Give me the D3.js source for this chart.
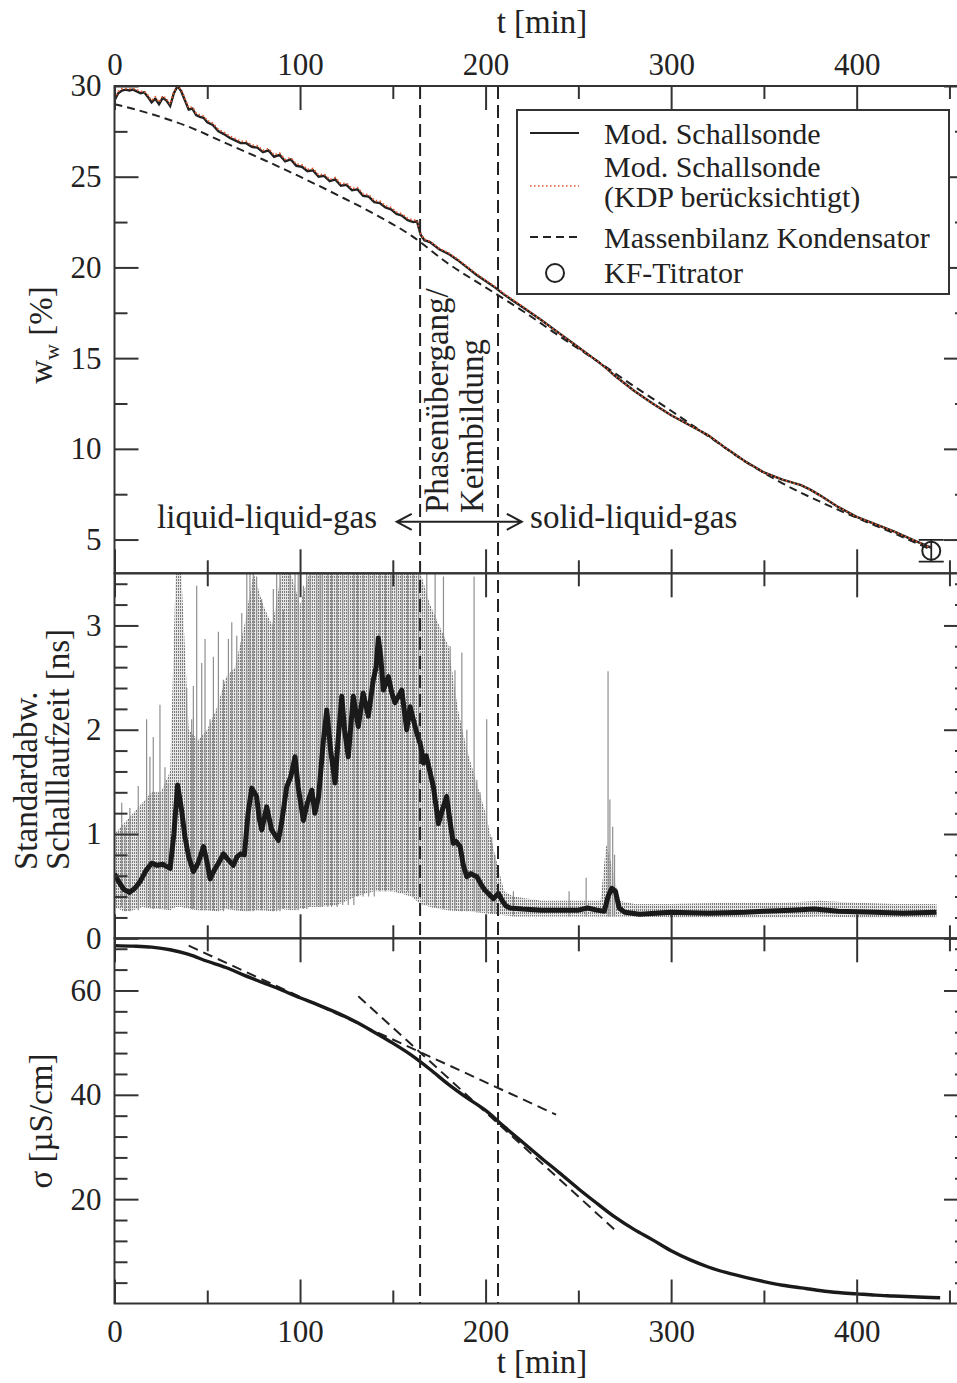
<!DOCTYPE html>
<html><head><meta charset="utf-8">
<script src="https://cdn.jsdelivr.net/npm/d3@7"></script>
<style>
html,body{margin:0;padding:0;background:#fff;}
svg text{font-family:"Liberation Serif","Times New Roman",serif;fill:#222;}
</style></head><body>
<svg id="chart" width="957" height="1383"></svg>
<script>
// ---------- DATA ----------
const xMajorTicks=[0,100,200,300,400];
const xMinorTicks=[50,150,250,350,450];
const wMajorTicks=[5,10,15,20,25,30];
const wMinorTicks=[7.5,12.5,17.5,22.5,27.5];
const sdMajorTicks=[0,1,2,3];
const sdMinorTicks=[0.2,0.4,0.6,0.8,1.2,1.4,1.6,1.8,2.2,2.4,2.6,2.8,3.2,3.4];
const sigMajorTicks=[20,40,60];
const sigMinorTicks=[4,8,12,16,24,28,32,36,44,48,52,56,64,68];

// top panel: water content w_w [%]
const wT=[0,2,4,6,8,10,12,14,16,18,20,22,24,26,28,30,32,34,36,38,40,42,44,46,48,50,53,56,59,62,65,68,71,74,77,80,83,86,89,92,95,98,101,104,107,110,113,116,119,122,125,128,131,134,137,140,143,146,149,152,155,158,161,163,165,167,170,175,180,185,190,195,200,205,210,215,220,230,240,250,260,265,270,280,290,300,310,320,330,340,350,360,370,375,380,390,400,410,420,430,440];
const wMod=[29.2,29.6,29.75,29.8,29.75,29.8,29.7,29.6,29.65,29.4,29.1,29.3,29.0,29.35,29.2,28.9,29.6,30.0,29.7,29.2,28.7,28.75,28.4,28.3,28.25,28.0,27.85,27.5,27.35,27.15,27.0,26.85,26.85,26.65,26.6,26.35,26.45,26.1,26.2,25.85,25.95,25.6,25.55,25.3,25.35,25.0,25.05,24.75,24.85,24.5,24.55,24.25,24.3,23.95,23.9,23.6,23.55,23.3,23.2,22.95,22.85,22.6,22.5,22.55,21.8,21.5,21.4,21.0,20.75,20.4,20.0,19.6,19.25,18.9,18.5,18.15,17.8,17.1,16.35,15.6,14.85,14.45,14.0,13.2,12.5,11.85,11.3,10.75,10.0,9.3,8.7,8.3,8.0,7.75,7.45,6.8,6.25,5.85,5.45,5.0,4.55];
const wKdp=[29.3,29.7,29.85,29.85,29.85,29.85,29.8,29.7,29.7,29.5,29.2,29.4,29.1,29.45,29.3,29.0,29.7,30.0,29.8,29.3,28.8,28.85,28.5,28.4,28.35,28.1,27.95,27.6,27.45,27.25,27.1,26.95,26.95,26.75,26.7,26.45,26.55,26.2,26.3,25.95,26.05,25.7,25.65,25.4,25.45,25.1,25.15,24.85,24.95,24.6,24.65,24.35,24.4,24.05,24.0,23.7,23.65,23.4,23.3,23.05,22.95,22.7,22.6,22.6,21.85,21.55,21.45,21.05,20.8,20.45,20.05,19.65,19.3,18.95,18.55,18.2,17.85,17.1,16.35,15.6,14.85,14.45,14.0,13.2,12.5,11.85,11.3,10.75,10.0,9.3,8.7,8.3,8.0,7.75,7.45,6.8,6.25,5.85,5.45,5.0,4.55];
const massT=[0,20,40,60,80,100,120,140,160,180,200,220,240,260,280,300,320,340,360,380,400,420,440];
const massW=[29.0,28.45,27.75,26.85,25.95,25.0,24.0,22.95,21.75,20.2,18.9,17.6,16.2,14.85,13.45,12.1,10.7,9.3,8.1,7.1,6.2,5.35,4.45];
const kfT=[440.2];
const kfW=[4.38];
const kfErr=[0.6];

// middle panel: standard deviation of sound travel time [ns]
const sdT=[0,2,5,8,11,14,17,20,23,26,28,30,32,34,36,38,40,42.5,45,48,50,51.5,54,56,58.7,61,64,66,68,70,72,74,76.6,78,79.4,82,84.7,88.3,90,92.8,95,97.3,99,101.8,104,106.3,108,110,112.6,114.4,116.5,118.9,120.5,122.5,124,126,128.7,131.4,134,136.8,139.5,141,142.2,143.5,144.9,147.6,149.5,151.2,154.8,157.5,159.3,162.9,165,166.5,168,171.9,174.6,177,179,181,182.6,184,186.3,188,189.9,192,195.3,197.5,199.7,202,204.2,206.9,209,211,213.2,220,230,240,250,255,260,264,266,268,270,272,275,283,300,320,340,350,365,377,390,410,425,443];
const sdSmooth=[0.62,0.55,0.47,0.44,0.48,0.55,0.65,0.72,0.70,0.71,0.69,0.67,1.0,1.47,1.25,0.97,0.78,0.64,0.72,0.88,0.72,0.57,0.66,0.72,0.81,0.76,0.70,0.78,0.81,0.80,1.2,1.44,1.36,1.15,1.04,1.26,1.04,0.94,1.1,1.45,1.55,1.74,1.45,1.13,1.3,1.42,1.2,1.36,1.9,2.19,1.8,1.49,1.9,2.32,2.0,1.74,2.32,2.03,2.35,2.13,2.48,2.6,2.88,2.7,2.38,2.51,2.35,2.26,2.38,2.0,2.22,1.97,1.85,1.68,1.75,1.45,1.10,1.25,1.36,1.1,0.91,0.93,0.88,0.7,0.59,0.62,0.59,0.52,0.46,0.42,0.38,0.43,0.36,0.31,0.29,0.28,0.27,0.27,0.27,0.29,0.27,0.26,0.40,0.48,0.45,0.29,0.25,0.23,0.25,0.24,0.25,0.26,0.27,0.28,0.26,0.25,0.24,0.25];
const noiseT=[0,5,10,15,20,25,30,33,36,40,45,50,55,60,65,70,75,80,85,90,95,100,105,110,120,130,140,150,160,165,170,175,180,185,190,195,200,205,210,215,230,250,262,265,268,272,280,300,330,360,380,400,420,443];
const noiseLow=[0.3,0.26,0.27,0.3,0.28,0.28,0.27,0.3,0.3,0.28,0.27,0.27,0.26,0.28,0.27,0.26,0.27,0.27,0.26,0.28,0.27,0.28,0.3,0.3,0.32,0.4,0.45,0.45,0.4,0.33,0.3,0.28,0.27,0.26,0.26,0.25,0.24,0.23,0.22,0.21,0.21,0.21,0.21,0.21,0.21,0.21,0.21,0.2,0.2,0.2,0.21,0.2,0.2,0.2];
const noiseHigh=[1.0,1.1,1.2,1.3,1.4,1.4,1.6,3.5,3.5,2.0,1.9,2.0,2.2,2.5,2.6,3.0,3.5,3.2,3.0,3.5,3.5,3.2,3.5,3.5,3.5,3.5,3.5,3.5,3.5,3.5,3.2,3.0,2.8,2.2,1.8,1.5,1.2,0.8,0.45,0.4,0.36,0.36,0.36,0.9,0.7,0.36,0.33,0.33,0.34,0.34,0.36,0.34,0.33,0.33];
const spikeT=[3.9,5.7,8.3,12.8,17.3,19.1,20.9,24.5,27.2,29,38.9,41.6,42.5,44.3,47,48.8,51.5,53.3,56,58.7,61.4,63.2,65.9,68.6,71.3,73,74.8,76.6,79.3,82,85.6,87.4,89.2,91,94.6,97.3,99,101.8,103.6,105.4,109,110.8,112,115,117,120,123,126,129,131,134,137,140,143,146,149,152,155,158,161,164,168.3,172.8,177.3,180.9,183.5,187.2,189.9,193.8,195.3,197,200.6,203.3,205,215,245,254.2,266,267,268.5,269.5];
const spikeTop=[1.3,1.07,1.25,1.46,2.1,1.74,1.93,2.24,1.64,1.49,2.4,2.1,2.42,3.38,2.64,2.87,2.1,2.7,2.94,2.48,2.87,3.03,2.9,3.12,3.5,3.5,3.5,3.47,3.25,3.06,3.35,3.5,3.5,3.15,3.5,3.5,3.5,3.38,3.5,3.5,3.5,3.5,3.5,3.5,3.5,3.5,3.5,3.5,3.5,3.5,3.5,3.5,3.5,3.5,3.5,3.5,3.5,3.5,3.5,3.5,3.5,3.5,3.5,3.47,2.8,2.57,2.74,2.0,3.47,1.52,1.4,2.1,0.97,0.8,0.45,0.45,0.58,2.56,1.33,1.07,0.8];

// bottom panel: conductivity sigma [µS/cm]
const sigT=[0,10,20,30,40,50,60,70,80,90,100,110,120,130,140,150,160,170,180,190,200,210,220,230,240,250,260,270,280,290,300,310,320,330,340,350,360,370,380,390,400,410,420,430,440,445];
const sigV=[68.6,68.5,68.3,67.8,66.9,65.6,64.4,62.9,61.5,60.1,58.6,57.2,55.7,54.0,52.0,49.9,47.6,44.9,42.0,39.4,37.0,33.9,30.9,27.9,25.0,22.0,19.2,16.5,14.2,12.2,10.1,8.4,7.0,5.9,5.0,4.2,3.5,3.0,2.5,2.1,1.85,1.6,1.45,1.3,1.15,1.1];
const tangent1T=[40,238];
const tangent1S=[68.6,36.2];
const tangent2T=[131.4,271.6];
const tangent2S=[58.9,13.5];

// phase boundaries [min]
const phaseT=[164.7,206.7];

// legend
const legendLabels=["Mod. Schallsonde","Mod. Schallsonde","(KDP berücksichtigt)","Massenbilanz Kondensator","KF-Titrator"];

// ---------- DRAW ----------
const svg=d3.select("#chart");
const ink="#222";
const x=d3.scaleLinear().domain([0,460]).range([114.5,968]);
const yW=d3.scaleLinear().domain([3.14,30]).range([573.3,86]);
const yS=d3.scaleLinear().domain([0,3.5]).range([938.3,573.3]);
const yG=d3.scaleLinear().domain([0,70]).range([1303.5,938.3]);
const panels=[
  {y:yW,top:86,bot:573.3,major:wMajorTicks,minor:wMinorTicks,id:"p1"},
  {y:yS,top:573.3,bot:938.3,major:sdMajorTicks,minor:sdMinorTicks,id:"p2"},
  {y:yG,top:938.3,bot:1303.5,major:sigMajorTicks,minor:sigMinorTicks,id:"p3"}
];
const X0=x(0),X1=x(460);
const defs=svg.append("defs");
panels.forEach(p=>{
  defs.append("clipPath").attr("id","clip-"+p.id).append("rect")
    .attr("x",X0).attr("y",p.top).attr("width",X1-X0).attr("height",p.bot-p.top);
});
const pat=defs.append("pattern").attr("id","hatch").attr("patternUnits","userSpaceOnUse")
  .attr("width",2).attr("height",3);
pat.append("rect").attr("x",0).attr("y",0).attr("width",1).attr("height",2).attr("fill","#6e6e6e");

function zip(a,b){return a.map((v,i)=>[v,b[i]]);}

// ---- Panel 2 noise ----
const g2=svg.append("g").attr("clip-path","url(#clip-p2)");
const noiseData=noiseT.map((t,i)=>({t,lo:noiseLow[i],hi:noiseHigh[i]}));
const noiseArea=d3.area().x(d=>x(d.t)).y0(d=>yS(d.lo)).y1(d=>yS(d.hi));
g2.append("path").datum(noiseData).attr("d",noiseArea).attr("fill","#e6e6e6");
g2.append("path").datum(noiseData).attr("d",noiseArea).attr("fill","url(#hatch)").attr("opacity",0.9);
const lowAt=t=>{const i=Math.max(0,d3.bisectLeft(noiseT,t)-1);return noiseLow[i];};
g2.selectAll("line.spk").data(zip(spikeT,spikeTop)).enter().append("line")
  .attr("x1",d=>x(d[0])).attr("x2",d=>x(d[0]))
  .attr("y1",d=>yS(lowAt(d[0]))).attr("y2",d=>yS(d[1]))
  .attr("stroke","#8f8f8f").attr("stroke-width",1.2);
g2.append("path").datum(zip(sdT,sdSmooth))
  .attr("d",d3.line().x(d=>x(d[0])).y(d=>yS(d[1])))
  .attr("fill","none").attr("stroke","#1a1a1a").attr("stroke-width",5).attr("stroke-linejoin","round");

// ---- Panel 1 ----
const g1=svg.append("g").attr("clip-path","url(#clip-p1)");
g1.append("path").datum(zip(massT,massW))
  .attr("d",d3.line().curve(d3.curveMonotoneX).x(d=>x(d[0])).y(d=>yW(d[1])))
  .attr("fill","none").attr("stroke",ink).attr("stroke-width",2).attr("stroke-dasharray","8,5");
g1.append("path").datum(zip(wT,wMod))
  .attr("d",d3.line().x(d=>x(d[0])).y(d=>yW(d[1])))
  .attr("fill","none").attr("stroke",ink).attr("stroke-width",2.4);
g1.append("path").datum(zip(wT,wKdp))
  .attr("d",d3.line().x(d=>x(d[0])).y(d=>yW(d[1])))
  .attr("fill","none").attr("stroke","#e4572e").attr("stroke-width",1.8).attr("stroke-dasharray","1.5,2.5");
kfT.forEach((t,i)=>{
  const cx=x(t),cy=yW(kfW[i]),ya=yW(kfW[i]+kfErr[i]),yb=yW(kfW[i]-kfErr[i]);
  g1.append("line").attr("x1",cx).attr("x2",cx).attr("y1",ya).attr("y2",yb).attr("stroke",ink).attr("stroke-width",1.8);
  [ya,yb].forEach(yy=>g1.append("line").attr("x1",cx-12.5).attr("x2",cx+12.5).attr("y1",yy).attr("y2",yy).attr("stroke",ink).attr("stroke-width",1.8));
  g1.append("circle").attr("cx",cx).attr("cy",cy).attr("r",9).attr("fill","none").attr("stroke",ink).attr("stroke-width",2);
});

// ---- Panel 3 ----
const g3=svg.append("g").attr("clip-path","url(#clip-p3)");
[[tangent1T,tangent1S],[tangent2T,tangent2S]].forEach(([tt,ss])=>{
  g3.append("path").datum(zip(tt,ss)).attr("d",d3.line().x(d=>x(d[0])).y(d=>yG(d[1])))
    .attr("fill","none").attr("stroke",ink).attr("stroke-width",2).attr("stroke-dasharray","10,6");
});
g3.append("path").datum(zip(sigT,sigV))
  .attr("d",d3.line().curve(d3.curveMonotoneX).x(d=>x(d[0])).y(d=>yG(d[1])))
  .attr("fill","none").attr("stroke","#1a1a1a").attr("stroke-width",3.4);

// ---- phase lines ----
phaseT.forEach(t=>{
  svg.append("line").attr("x1",x(t)).attr("x2",x(t)).attr("y1",86).attr("y2",1303.5)
    .attr("stroke",ink).attr("stroke-width",2).attr("stroke-dasharray","13,6");
});

// ---- axes ----
function styleAxis(g,fs){
  g.select(".domain").remove();
  g.selectAll(".tick line").attr("stroke","#333").attr("stroke-width",2);
  g.selectAll(".tick text").attr("font-size",fs).attr("fill",ink)
    .style("font-family",'"Liberation Serif","Times New Roman",serif');
}
panels.forEach((p,idx)=>{
  let g=svg.append("g").attr("transform",`translate(${X0},0)`)
    .call(d3.axisLeft(p.y).tickValues(p.major).tickSize(-24).tickPadding(13).tickFormat(d3.format("d")));
  styleAxis(g,31);
  g=svg.append("g").attr("transform",`translate(${X0},0)`)
    .call(d3.axisLeft(p.y).tickValues(p.minor).tickSize(-13).tickFormat(""));
  styleAxis(g,31);
  g=svg.append("g").attr("transform",`translate(${X1},0)`)
    .call(d3.axisRight(p.y).tickValues(p.major).tickSize(-24).tickFormat(""));
  styleAxis(g,31);
  g=svg.append("g").attr("transform",`translate(${X1},0)`)
    .call(d3.axisRight(p.y).tickValues(p.minor).tickSize(-13).tickFormat(""));
  styleAxis(g,31);
  g=svg.append("g").attr("transform",`translate(0,${p.top})`)
    .call(d3.axisTop(x).tickValues(xMajorTicks).tickSize(-24).tickPadding(11)
      .tickFormat(idx===0?d3.format("d"):""));
  styleAxis(g,31);
  g=svg.append("g").attr("transform",`translate(0,${p.top})`)
    .call(d3.axisTop(x).tickValues(xMinorTicks).tickSize(-13).tickFormat(""));
  styleAxis(g,31);
  g=svg.append("g").attr("transform",`translate(0,${p.bot})`)
    .call(d3.axisBottom(x).tickValues(xMajorTicks).tickSize(-24).tickPadding(16.5)
      .tickFormat(idx===2?d3.format("d"):""));
  styleAxis(g,31);
  g=svg.append("g").attr("transform",`translate(0,${p.bot})`)
    .call(d3.axisBottom(x).tickValues(xMinorTicks).tickSize(-13).tickFormat(""));
  styleAxis(g,31);
  svg.append("rect").attr("x",X0).attr("y",p.top).attr("width",X1-X0).attr("height",p.bot-p.top)
    .attr("fill","none").attr("stroke","#333").attr("stroke-width",2);
});

// ---- axis titles ----
svg.append("text").attr("x",542).attr("y",33).attr("text-anchor","middle").attr("font-size",33).text("t [min]");
svg.append("text").attr("x",542).attr("y",1373).attr("text-anchor","middle").attr("font-size",33).text("t [min]");
const wl=svg.append("text").attr("transform","translate(52,335) rotate(-90)").attr("text-anchor","middle").attr("font-size",33);
wl.append("tspan").text("w");
wl.append("tspan").attr("font-size",22).attr("dy",7).text("w");
wl.append("tspan").attr("dy",-7).text(" [%]");
svg.append("text").attr("transform","translate(37,870) rotate(-90)").attr("text-anchor","start").attr("font-size",33).text("Standardabw.");
svg.append("text").attr("transform","translate(69,870) rotate(-90)").attr("text-anchor","start").attr("font-size",33).text("Schalllaufzeit [ns]");
svg.append("text").attr("transform","translate(52,1121) rotate(-90)").attr("text-anchor","middle").attr("font-size",33).text("σ [µS/cm]");

// ---- annotations ----
const arrY=yW(5.98);
const aL=x(152.1),aR=x(219.5);
svg.append("path").attr("d",`M${aL},${arrY}H${aR}M${aL+15},${arrY-8}L${aL},${arrY}L${aL+15},${arrY+8}M${aR-15},${arrY-8}L${aR},${arrY}L${aR-15},${arrY+8}`)
  .attr("fill","none").attr("stroke",ink).attr("stroke-width",2);
svg.append("text").attr("x",x(141.5)).attr("y",yW(5.63)).attr("text-anchor","end").attr("font-size",33).text("liquid-liquid-gas");
svg.append("text").attr("x",x(224)).attr("y",yW(5.63)).attr("text-anchor","start").attr("font-size",33).text("solid-liquid-gas");
svg.append("text").attr("transform",`translate(${x(180)},${yW(6.46)}) rotate(-90)`).attr("font-size",33).text("Phasenübergang/");
svg.append("text").attr("transform",`translate(${x(198.7)},${yW(6.46)}) rotate(-90)`).attr("font-size",33).text("Keimbildung");

// ---- legend ----
const lg=svg.append("g");
lg.append("rect").attr("x",517).attr("y",110).attr("width",432).attr("height",184)
  .attr("fill","#fff").attr("stroke","#333").attr("stroke-width",2);
lg.append("line").attr("x1",530).attr("x2",579).attr("y1",133).attr("y2",133).attr("stroke",ink).attr("stroke-width",2);
lg.append("line").attr("x1",530).attr("x2",579).attr("y1",186).attr("y2",186).attr("stroke","#e4572e").attr("stroke-width",1.6).attr("stroke-dasharray","1.5,2.5");
lg.append("line").attr("x1",530).attr("x2",579).attr("y1",237).attr("y2",237).attr("stroke",ink).attr("stroke-width",2).attr("stroke-dasharray","8,5");
lg.append("circle").attr("cx",555).attr("cy",273).attr("r",9).attr("fill","none").attr("stroke",ink).attr("stroke-width",2);
const lys=[144,177,207,248,283];
legendLabels.forEach((s,i)=>lg.append("text").attr("x",604).attr("y",lys[i]).attr("font-size",30).text(s));
</script>
</body></html>
